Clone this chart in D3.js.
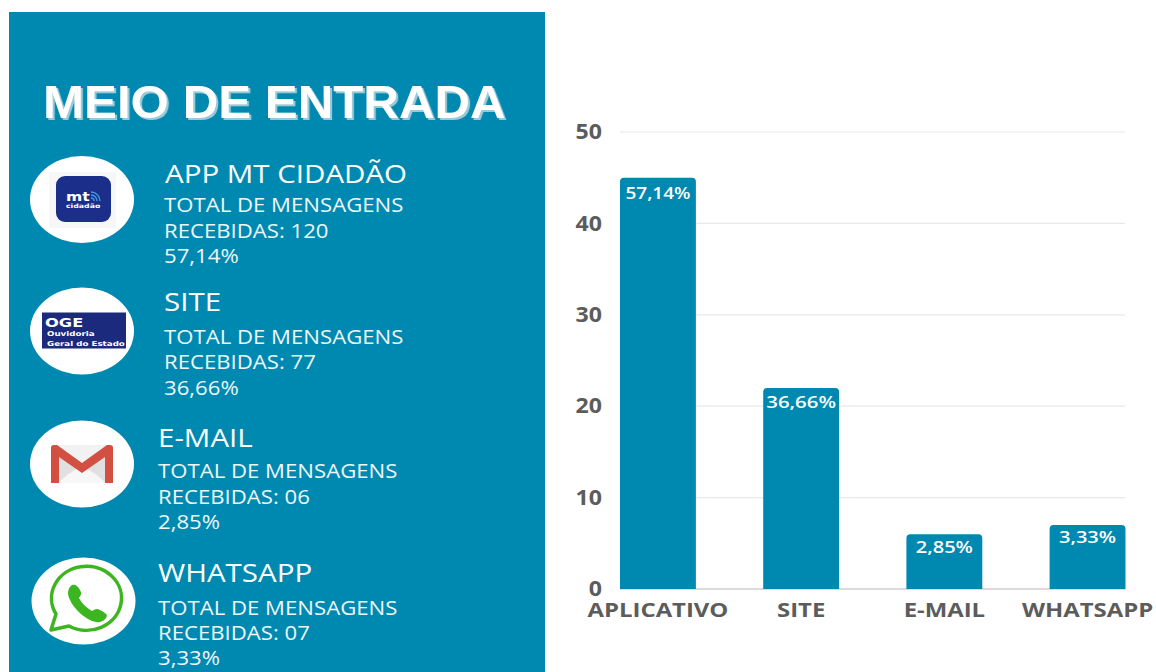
<!DOCTYPE html>
<html lang="pt">
<head>
<meta charset="utf-8">
<title>Meio de entrada</title>
<script src="https://cdn.jsdelivr.net/npm/d3@7"></script>
<style>
html, body { margin: 0; padding: 0; background: #fff; }
svg { display: block; }
text { font-family: "Open Sans", sans-serif; }
.title { font-family: "Liberation Sans", Arial, sans-serif; font-weight: bold; font-size: 46.5px; fill: #fff; filter: drop-shadow(2px 2px 0.6px #9cc9d8); }
.name { font-size: 25px; fill: #fff; }
.info { font-size: 19.5px; fill: #eef7fa; }
.tick text { font-weight: bold; fill: #5c5c5c; }
.logo { font-family: "DejaVu Sans", sans-serif; font-weight: bold; fill: #fff; }
</style>
</head>
<body>
<svg id="main" width="1156" height="672"></svg>
<script>
var categories = ["APLICATIVO", "SITE", "E-MAIL", "WHATSAPP"];
var values = [45, 22, 6, 7];
var percents = ["57,14%", "36,66%", "2,85%", "3,33%"];
var yTicks = [0, 10, 20, 30, 40, 50];

var channelNames = ["APP MT CIDADÃO", "SITE", "E-MAIL", "WHATSAPP"];
var channelTotals = ["120", "77", "06", "07"];

var blue = "#0089b0";
var svg = d3.select("svg#main");

// the reference is stretched sideways, so text gets a horizontal scale
function wideText(parent, cls, px, py, sx, str) {
  return parent.append("text").attr("class", cls)
    .attr("transform", "translate(" + px + "," + py + ") scale(" + sx + ",1)")
    .text(str);
}

// left panel
svg.append("rect").attr("x", 9).attr("y", 12).attr("width", 536).attr("height", 660).attr("fill", blue);
wideText(svg, "title", 43, 118, 1.06, "MEIO DE ENTRADA");

// layout of each block: icon centre, text x, baselines
var blocks = [
  { cx: 82, cy: 199.5, tx: 164, nameX: 165, nameY: 183, y1: 212, y2: 238, y3: 263 },
  { cx: 82, cy: 331, tx: 164, nameX: 164, nameY: 311, y1: 344, y2: 369, y3: 395 },
  { cx: 82, cy: 464, tx: 158, nameX: 158, nameY: 447, y1: 478, y2: 504, y3: 529 },
  { cx: 83.5, cy: 601, tx: 158, nameX: 158, nameY: 582, y1: 615, y2: 640, y3: 665 }
];

blocks.forEach(function(b, i) {
  svg.append("ellipse").attr("cx", b.cx).attr("cy", b.cy).attr("rx", 52).attr("ry", 43.5).attr("fill", "#fff");
  wideText(svg, "name", b.nameX, b.nameY, 1.18, channelNames[i]);
  wideText(svg, "info", b.tx, b.y1, 1.137, "TOTAL DE MENSAGENS");
  wideText(svg, "info", b.tx, b.y2, 1.137, "RECEBIDAS: " + channelTotals[i]);
  wideText(svg, "info", b.tx, b.y3, 1.137, percents[i]);
});

// icon: app
var app = svg.append("g");
app.append("rect").attr("x", 49).attr("y", 172).attr("width", 67).attr("height", 56).attr("fill", "#f7f7f7");
app.append("rect").attr("x", 56).attr("y", 176).attr("width", 55).attr("height", 46).attr("rx", 9).attr("fill", "#1b2f8a");
wideText(app, "logo", 66, 201, 1.25, "mt").attr("font-size", 12.5);
wideText(app, "logo", 66, 208, 1.3, "cidadão").attr("font-size", 6);
[3, 6, 9].forEach(function(r) {
  app.append("path").attr("d", d3.arc()({ innerRadius: r - 0.7, outerRadius: r + 0.7, startAngle: 0, endAngle: Math.PI / 2 }))
    .attr("transform", "translate(91,201)").attr("fill", "#3f9be0");
});

// icon: OGE
var oge = svg.append("g");
oge.append("rect").attr("x", 42).attr("y", 312.5).attr("width", 84).attr("height", 36).attr("fill", "#1b2a7c");
wideText(oge, "logo", 45, 327, 1.3, "OGE").attr("font-size", 12.5);
wideText(oge, "logo", 47, 336, 1.3, "Ouvidoria").attr("font-size", 6.7);
wideText(oge, "logo", 47, 345.5, 1.3, "Geral do Estado").attr("font-size", 6.7);

// icon: gmail
var mail = svg.append("g");
mail.append("rect").attr("x", 51).attr("y", 445).attr("width", 62).attr("height", 38).attr("fill", "#f2f2f2");
mail.append("path").attr("d", "M58 483L82 465L106 483Z").attr("fill", "#f7f7f7");
mail.append("path").attr("d", "M58 452L82 469L106 452L106 483L96 474L82 466L68 474L58 483Z").attr("fill", "#e0e0e0");
mail.append("path").attr("d", "M51 448Q51 445 54 445L57 445L82 463L107 445L110 445Q113 445 113 448L113 483L105 483L105 457L82 473L59 457L59 483L51 483Z").attr("fill", "#d24f41");

// icon: whatsapp
var wa = svg.append("g");
wa.append("path")
  .attr("d", "M51 630L56 614A35 32 0 1 1 69 626Z")
  .attr("fill", "#fff").attr("stroke", "#3cb521").attr("stroke-width", 3.5).attr("stroke-linejoin", "round");
wa.append("path")
  .attr("d", "M72 585C75 584 78 586 80 590C82 594 81 595 79 598C82 604 87 608 92 611C95 609 97 608 100 610C104 612 107 614 107 616C105 621 100 623 96 622C85 620 70 606 68 594C68 590 69 587 72 585Z")
  .attr("fill", "#3cb521");

// chart
var x = d3.scaleBand().domain(categories).range([620, 1125.5]).paddingInner(0.47).paddingOuter(0);
var y = d3.scaleLinear().domain([0, 50]).range([589, 132]);

svg.append("g").selectAll("line").data(yTicks).enter().append("line")
  .attr("x1", 620).attr("x2", 1125)
  .attr("y1", function(d) { return y(d); })
  .attr("y2", function(d) { return y(d); })
  .attr("stroke", function(d) { return d === 0 ? "#cfcfcf" : "#e8e8e8"; })
  .attr("stroke-width", function(d) { return d === 0 ? 1.5 : 1.2; });

var yAxis = svg.append("g").attr("transform", "translate(602,0)")
  .call(d3.axisLeft(y).tickValues(yTicks).tickSize(0).tickPadding(0));
yAxis.select(".domain").remove();
yAxis.selectAll("text").style("font-size", "21px").attr("transform", "scale(1.1,1)");

var xAxis = svg.append("g").attr("transform", "translate(0,589)")
  .call(d3.axisBottom(x).tickSize(0).tickPadding(14));
xAxis.select(".domain").remove();
xAxis.selectAll("text").style("font-size", "20px").attr("transform", "scale(1.195,1)");

// rounded only at the top
function barPath(d, i) {
  var x0 = x(categories[i]), x1 = x0 + x.bandwidth(), y0 = y(d), y1 = y(0), r = 4;
  return "M" + x0 + "," + y1 + "V" + (y0 + r) + "Q" + x0 + "," + y0 + " " + (x0 + r) + "," + y0 +
    "H" + (x1 - r) + "Q" + x1 + "," + y0 + " " + x1 + "," + (y0 + r) + "V" + y1 + "Z";
}

svg.append("g").selectAll("path").data(values).enter().append("path")
  .attr("d", barPath).attr("fill", blue);

// labels sit a little differently in each bar of the reference
var labelStretch = [1.12, 1.2, 1.18, 1.18];
var labelDrop = [21, 20, 19, 18];

svg.append("g").selectAll("text").data(values).enter().append("text")
  .attr("transform", function(d, i) {
    return "translate(" + (x(categories[i]) + x.bandwidth() / 2) + "," + (y(d) + labelDrop[i]) + ") scale(" + labelStretch[i] + ",1)";
  })
  .attr("text-anchor", "middle")
  .attr("fill", "#fff")
  .style("font-size", "17px")
  .style("font-weight", "600")
  .text(function(d, i) { return percents[i]; });
</script>
</body>
</html>
